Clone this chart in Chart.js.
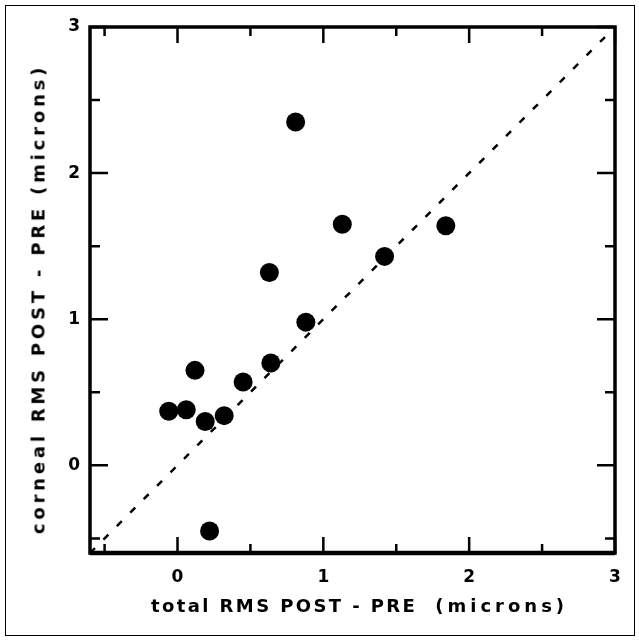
<!DOCTYPE html>
<html>
<head>
<meta charset="utf-8">
<script src="https://cdn.jsdelivr.net/npm/chart.js"></script>
<style>
  html, body { margin: 0; padding: 0; background: #fff; }
  #wrap { position: relative; width: 639px; height: 640px; overflow: hidden; }
  #box { position: absolute; left: 5px; top: 5px; width: 628px; height: 629px; border: 1px solid #000; }
  canvas { position: absolute; left: 0; top: 0; }
  .ttl { position: absolute; font: bold 18px 'DejaVu Sans', sans-serif; letter-spacing: 3px; white-space: nowrap; color: #000; }
  #xTitle { left: 151px; top: 595px; letter-spacing: 2.4px; }
  #xTitle span { letter-spacing: 4px; margin-left: 18px; }
  #yTitle { left: 38px; top: 299px; letter-spacing: 3.8px; transform: translate(-50%, -50%) rotate(-90deg); }
</style>
</head>
<body>
<div id="wrap">
  <div id="box"></div>
  <canvas id="chart" width="639" height="640"></canvas>
  <div class="ttl" id="yTitle">corneal RMS POST - PRE (microns)</div>
  <div class="ttl" id="xTitle">total RMS POST - PRE<span>(microns)</span></div>
</div>
<script>
// measured values (microns)
const xValues = [0.81, 1.13, 1.84, 1.42, 0.63, 0.88, 0.64, 0.12, 0.45, -0.06, 0.06, 0.19, 0.32, 0.22];
const yValues = [2.35, 1.65, 1.64, 1.43, 1.32, 0.98, 0.70, 0.65, 0.57, 0.37, 0.38, 0.30, 0.34, -0.45];

// y = x reference line
const lineX = [-0.6, 3];
const lineY = [-0.6, 3];

const xTicks = [0, 1, 2, 3];
const yTicks = [0, 1, 2, 3];
const xMinor = [-0.5, 0.5, 1.5, 2.5];
const yMinor = [-0.5, 0.5, 1.5, 2.5];

const tickFont = { family: "'DejaVu Sans', sans-serif", size: 17, weight: 'bold' };

// box frame with inward ticks on all four sides
const framePlugin = {
  id: 'frame',
  afterDatasetsDraw(chart) {
    const { ctx, chartArea: a, scales: { x, y } } = chart;
    ctx.save();
    ctx.strokeStyle = '#000';
    ctx.lineCap = 'butt';
    ctx.lineWidth = 2.5;
    const vTick = (v, len) => {
      const px = x.getPixelForValue(v);
      ctx.beginPath();
      ctx.moveTo(px, a.bottom); ctx.lineTo(px, a.bottom - len);
      ctx.moveTo(px, a.top); ctx.lineTo(px, a.top + len);
      ctx.stroke();
    };
    const hTick = (v, len) => {
      const py = y.getPixelForValue(v);
      ctx.beginPath();
      ctx.moveTo(a.left, py); ctx.lineTo(a.left + len, py);
      ctx.moveTo(a.right, py); ctx.lineTo(a.right - len, py);
      ctx.stroke();
    };
    xTicks.forEach(v => vTick(v, 16));
    xMinor.forEach(v => vTick(v, 9));
    yTicks.forEach(v => hTick(v, 18));
    yMinor.forEach(v => hTick(v, 10));
    ctx.lineWidth = 3.5;
    ctx.strokeRect(a.left, a.top, a.right - a.left, a.bottom - a.top);
    // heavier bottom edge as in the original
    ctx.lineWidth = 4.5;
    ctx.beginPath();
    ctx.moveTo(a.left, a.bottom); ctx.lineTo(a.right, a.bottom);
    ctx.stroke();
    ctx.restore();
  }
};

new Chart(document.getElementById('chart'), {
  type: 'scatter',
  data: {
    datasets: [
      {
        data: xValues.map((v, i) => ({ x: v, y: yValues[i] })),
        backgroundColor: '#000',
        borderWidth: 0,
        pointRadius: 9.5,
        order: 0
      },
      {
        data: lineX.map((v, i) => ({ x: v, y: lineY[i] })),
        showLine: true,
        borderColor: '#000',
        borderWidth: 2.5,
        borderDash: [7, 12],
        pointRadius: 0,
        order: 1
      }
    ]
  },
  options: {
    responsive: false,
    animation: false,
    layout: { padding: { top: 27, right: 24, left: 0, bottom: 0 } },
    plugins: { legend: { display: false }, tooltip: { enabled: false } },
    scales: {
      x: {
        type: 'linear',
        min: -0.6,
        max: 3,
        afterBuildTicks: s => { s.ticks = xTicks.map(v => ({ value: v })); },
        afterFit: s => { s.height = 87; },
        grid: { display: false, drawTicks: false },
        border: { display: false },
        ticks: { font: tickFont, color: '#000', padding: 14 }
      },
      y: {
        type: 'linear',
        min: -0.6,
        max: 3,
        afterBuildTicks: s => { s.ticks = yTicks.map(v => ({ value: v })); },
        afterFit: s => { s.width = 90; },
        grid: { display: false, drawTicks: false },
        border: { display: false },
        ticks: { font: tickFont, color: '#000', padding: 10 }
      }
    }
  },
  plugins: [framePlugin]
});
</script>
</body>
</html>
